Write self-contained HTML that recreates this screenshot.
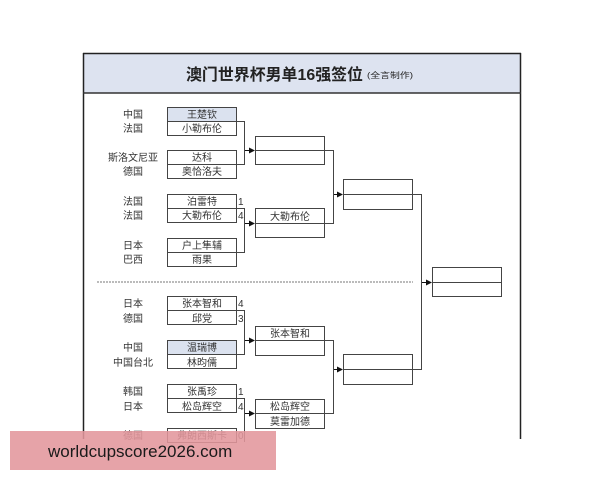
<!DOCTYPE html>
<html><head><meta charset="utf-8"><style>
html,body{margin:0;padding:0;background:#fff;}
svg{display:block;}
text{font-family:"Liberation Sans","Noto Sans CJK SC",sans-serif;}
</style></head><body>
<svg width="600" height="480" viewBox="0 0 600 480" xmlns="http://www.w3.org/2000/svg">
<defs><marker id="a" markerWidth="6" markerHeight="6" refX="5" refY="3" orient="auto"><path d="M0,0 L6,3 L0,6z" fill="#111"/></marker></defs>
<rect x="0" y="0" width="600" height="480" fill="#fff"/>
<rect x="83" y="53" width="438" height="40" fill="#dde3f0"/>
<line x1="83.5" y1="53" x2="83.5" y2="439" stroke="#222" stroke-width="1.5"/>
<line x1="520.5" y1="53" x2="520.5" y2="439" stroke="#222" stroke-width="1.5"/>
<line x1="83" y1="53.5" x2="521" y2="53.5" stroke="#222" stroke-width="1.5"/>
<line x1="83" y1="93" x2="521" y2="93" stroke="#333" stroke-width="1.5"/>
<text x="186" y="80" font-size="16" font-weight="bold" fill="#222" textLength="177" lengthAdjust="spacingAndGlyphs">澳门世界杯男单16强签位</text>
<text x="367" y="78" font-size="8" fill="#222" textLength="46" lengthAdjust="spacingAndGlyphs">(全言制作)</text>
<line x1="97" y1="282" x2="413" y2="282" stroke="#777" stroke-dasharray="2,1"/>
<g font-size="10" fill="#333" text-anchor="middle">
<text x="133" y="118">中国</text><text x="133" y="132">法国</text>
<text x="133" y="161">斯洛文尼亚</text><text x="133" y="175">德国</text>
<text x="133" y="205">法国</text><text x="133" y="219">法国</text>
<text x="133" y="249">日本</text><text x="133" y="263">巴西</text>
<text x="133" y="307">日本</text><text x="133" y="322">德国</text>
<text x="133" y="351">中国</text><text x="133" y="366">中国台北</text>
<text x="133" y="395">韩国</text><text x="133" y="410">日本</text>
<text x="133" y="439">德国</text>
</g>
<g stroke="#444" stroke-width="1" fill="none">
<rect x="167.5" y="107.5" width="69" height="14" fill="#dbe2ef"/><rect x="167.5" y="121.5" width="69" height="14"/>
<rect x="167.5" y="150.5" width="69" height="14"/><rect x="167.5" y="164.5" width="69" height="14"/>
<rect x="167.5" y="194.5" width="69" height="14"/><rect x="167.5" y="208.5" width="69" height="14"/>
<rect x="167.5" y="238.5" width="69" height="14"/><rect x="167.5" y="252.5" width="69" height="14"/>
<rect x="167.5" y="296.5" width="69" height="14"/><rect x="167.5" y="310.5" width="69" height="14"/>
<rect x="167.5" y="340.5" width="69" height="14" fill="#dbe2ef"/><rect x="167.5" y="354.5" width="69" height="14"/>
<rect x="167.5" y="384.5" width="69" height="14"/><rect x="167.5" y="398.5" width="69" height="14"/>
<rect x="167.5" y="428.5" width="69" height="14"/>
<rect x="255.5" y="136.5" width="69" height="28"/><line x1="255" y1="150.5" x2="325" y2="150.5"/>
<rect x="255.5" y="208.5" width="69" height="29"/><line x1="255" y1="223.5" x2="325" y2="223.5"/>
<rect x="255.5" y="326.5" width="69" height="29"/><line x1="255" y1="340.5" x2="325" y2="340.5"/>
<rect x="255.5" y="399.5" width="69" height="29"/><line x1="255" y1="413.5" x2="325" y2="413.5"/>
<rect x="343.5" y="179.5" width="69" height="30"/><line x1="343" y1="194.5" x2="413" y2="194.5"/>
<rect x="343.5" y="354.5" width="69" height="30"/><line x1="343" y1="369.5" x2="413" y2="369.5"/>
<rect x="432.5" y="267.5" width="69" height="29"/><line x1="432" y1="282.5" x2="502" y2="282.5"/>
<polyline points="236,121.5 244.5,121.5 244.5,164.5 236,164.5"/>
<polyline points="236,208.5 244.5,208.5 244.5,252.5 236,252.5"/>
<polyline points="236,310.5 244.5,310.5 244.5,354.5 236,354.5"/>
<polyline points="236,398.5 244.5,398.5 244.5,442"/>
<polyline points="325,150.5 333.5,150.5 333.5,223.5 325,223.5"/>
<polyline points="325,340.5 333.5,340.5 333.5,413.5 325,413.5"/>
<polyline points="413,194.5 421.5,194.5 421.5,369.5 413,369.5"/>
</g>
<g stroke="#111" stroke-width="1" marker-end="url(#a)">
<line x1="245" y1="150.5" x2="254" y2="150.5"/>
<line x1="245" y1="223.5" x2="254" y2="223.5"/>
<line x1="245" y1="340.5" x2="254" y2="340.5"/>
<line x1="245" y1="413.5" x2="254" y2="413.5"/>
<line x1="334" y1="194.5" x2="342" y2="194.5"/>
<line x1="334" y1="369.5" x2="342" y2="369.5"/>
<line x1="422" y1="282.5" x2="431" y2="282.5"/>
</g>
<g font-size="10" fill="#333" text-anchor="middle">
<text x="202" y="118">王楚钦</text><text x="202" y="132">小勒布伦</text>
<text x="202" y="161">达科</text><text x="202" y="175">奥恰洛夫</text>
<text x="202" y="205">泊雷特</text><text x="202" y="219">大勒布伦</text>
<text x="202" y="249">户上隼辅</text><text x="202" y="263">雨果</text>
<text x="202" y="307">张本智和</text><text x="202" y="322">邱党</text>
<text x="202" y="351">温瑞博</text><text x="202" y="366">林昀儒</text>
<text x="202" y="395">张禹珍</text><text x="202" y="410">松岛辉空</text>
<text x="202" y="439">弗朗西斯卡</text>
<text x="290" y="220">大勒布伦</text>
<text x="290" y="337">张本智和</text>
<text x="290" y="410">松岛辉空</text><text x="290" y="425">莫雷加德</text>
</g>
<g font-size="10" fill="#333">
<text x="238" y="205">1</text><text x="238" y="219">4</text>
<text x="238" y="307">4</text><text x="238" y="322">3</text>
<text x="238" y="395">1</text><text x="238" y="410">4</text>
<text x="238" y="439">0</text>
</g>
<rect x="10" y="431" width="266" height="39" fill="rgb(226,150,156)" fill-opacity="0.88"/>
<text x="48" y="457" font-size="17" fill="#1a1a1a" font-family="'Liberation Sans',sans-serif">worldcupscore2026.com</text>
</svg>
</body></html>
